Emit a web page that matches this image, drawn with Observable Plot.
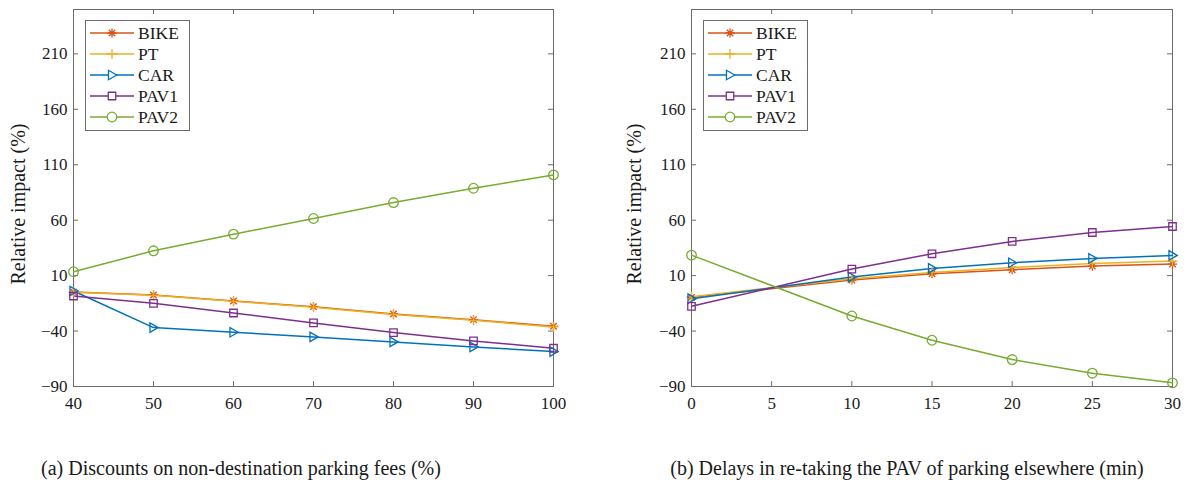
<!DOCTYPE html>
<html>
<head>
<meta charset="utf-8">
<script src="https://cdn.jsdelivr.net/npm/d3@7"></script>
<script src="https://cdn.jsdelivr.net/npm/@observablehq/plot@0.6"></script>
<style>
  html, body { margin: 0; padding: 0; background: #fff; }
  #root { position: relative; width: 1187px; height: 484px; overflow: hidden; font-family: "Liberation Serif", "Times New Roman", serif; color: #1a1a1a; }
  .abs { position: absolute; font-family: "Liberation Serif", "Times New Roman", serif; }
  .ylab { font-size: 20px; white-space: nowrap; transform: translate(-50%, -50%) rotate(-90deg); }
  .cap { font-size: 20px; white-space: nowrap; transform: translate(-50%, -50%); }
  svg text { font-family: "Liberation Serif", "Times New Roman", serif; }
</style>
</head>
<body>
<div id="root"></div>
<script>
// ---------------- data ----------------
const seriesNames = ["BIKE", "PT", "CAR", "PAV1", "PAV2"];
const seriesColors = ["#D95319", "#EDB120", "#0072BD", "#7E2F8E", "#77AC30"];

// Panel (a): discounts on non-destination parking fees (%)
const xA = [40, 50, 60, 70, 80, 90, 100];
const bikeA = [-4.8, -7.5, -12.9, -18.0, -24.6, -29.7, -35.7];
const ptA   = [-5.0, -7.8, -13.2, -18.5, -25.0, -30.3, -36.3];
const carA  = [-3.9, -36.9, -41.1, -45.3, -49.8, -54.3, -58.5];
const pav1A = [-8.4, -15.0, -23.7, -32.7, -41.4, -48.9, -55.5];
const pav2A = [13.5, 32.4, 47.4, 61.5, 75.9, 88.8, 100.8];

// Panel (b): delays in re-taking the PAV (min)
const xB = [0, 10, 15, 20, 25, 30];
const bikeB = [-9.6, 6.0, 11.7, 15.3, 18.6, 20.4];
const ptB   = [-9.0, 7.2, 12.9, 17.4, 21.0, 23.1];
const carB  = [-10.8, 8.7, 16.5, 21.6, 25.5, 28.2];
const pav1B = [-17.7, 15.9, 29.7, 40.8, 48.9, 54.3];
const pav2B = [28.5, -26.4, -48.3, -65.7, -78.0, -86.7];

const xTicksA = [40, 50, 60, 70, 80, 90, 100];
const xTicksB = [0, 5, 10, 15, 20, 25, 30];
const yTicks = [-90, -40, 10, 60, 110, 160, 210];
const yDomain = [-90, 250];

const yLabel = "Relative impact (%)";
const captionA = "(a) Discounts on non-destination parking fees (%)";
const captionB = "(b) Delays in re-taking the PAV of parking elsewhere (min)";

// ---------------- marker symbols (MATLAB style) ----------------
const rOf = size => Math.sqrt(size / Math.PI);
const symAsterisk = { draw(c, size) { const r = rOf(size) * 0.95, d = r * 0.7071;
  c.moveTo(-r, 0); c.lineTo(r, 0); c.moveTo(0, -r); c.lineTo(0, r);
  c.moveTo(-d, -d); c.lineTo(d, d); c.moveTo(-d, d); c.lineTo(d, -d); } };
const symPlus = { draw(c, size) { const r = rOf(size) * 1.05;
  c.moveTo(-r, 0); c.lineTo(r, 0); c.moveTo(0, -r); c.lineTo(0, r); } };
const symTriRight = { draw(c, size) { const r = rOf(size) * 0.98;
  c.moveTo(r, 0); c.lineTo(-r * 0.75, -r); c.lineTo(-r * 0.75, r); c.closePath(); } };
const symSquare = { draw(c, size) { const h = rOf(size) * 0.78;
  c.moveTo(-h, -h); c.lineTo(h, -h); c.lineTo(h, h); c.lineTo(-h, h); c.closePath(); } };
const symCircle = { draw(c, size) { const r = rOf(size);
  c.moveTo(r, 0); c.arc(0, 0, r, 0, 2 * Math.PI); } };
const seriesSymbols = [symAsterisk, symPlus, symTriRight, symSquare, symCircle];

const FONT = '"Liberation Serif", "Times New Roman", serif';
const FRAME = "#6b6b6b";
const DOT_R = 4.8;

function makePanel({ xs, ys, xDomain, xTicks, width, height, marginLeft, marginRight, marginTop, marginBottom }) {
  const plotW = width - marginLeft - marginRight;
  const plotH = height - marginTop - marginBottom;
  const marks = [
    Plot.frame({ stroke: FRAME, strokeWidth: 1 }),
    Plot.tickX(xTicks, { x: d => d, insetTop: plotH - 5, stroke: FRAME }),
    Plot.tickX(xTicks, { x: d => d, insetBottom: plotH - 5, stroke: FRAME }),
    Plot.tickY(yTicks, { y: d => d, insetLeft: plotW - 5, stroke: FRAME }),
    Plot.tickY(yTicks, { y: d => d, insetRight: plotW - 5, stroke: FRAME }),
    Plot.axisX({ ticks: xTicks, tickSize: 0, tickPadding: 10, label: null, fontSize: 17, fill: "#1a1a1a" }),
    Plot.axisY({ ticks: yTicks, tickSize: 0, tickPadding: 6, label: null, fontSize: 17, fill: "#1a1a1a" })
  ];
  seriesNames.forEach((name, k) => {
    const data = xs.map((x, i) => ({ x, y: ys[k][i], name }));
    marks.push(Plot.line(data, { x: "x", y: "y", stroke: seriesColors[k], strokeWidth: 1.5 }));
  });
  seriesNames.forEach((name, k) => {
    const data = xs.map((x, i) => ({ x, y: ys[k][i], name }));
    marks.push(Plot.dot(data, { x: "x", y: "y", r: DOT_R, symbol: seriesSymbols[k], stroke: seriesColors[k], fill: "none", strokeWidth: 1.3 }));
  });
  const svg = Plot.plot({
    width, height, marginLeft, marginRight, marginTop, marginBottom,
    x: { domain: xDomain, ticks: xTicks },
    y: { domain: yDomain, ticks: yTicks },
    style: `font-family: ${FONT}; font-size: 17px; background: transparent; overflow: visible;`,
    marks
  });
  svg.setAttribute("font-family", FONT);
  return svg;
}

function makeLegend(left, top) {
  const w = 104, rowH = 21, h = 110;
  const svg = d3.create("svg").attr("width", w + 2).attr("height", h + 2)
    .style("position", "absolute").style("left", left + "px").style("top", top + "px").style("overflow", "visible");
  svg.append("rect").attr("x", 0.5).attr("y", 0.5).attr("width", w).attr("height", h)
    .attr("fill", "white").attr("stroke", FRAME).attr("stroke-width", 1);
  seriesNames.forEach((name, k) => {
    const cy = 13 + k * rowH;
    const g = svg.append("g");
    g.append("line").attr("x1", 5).attr("x2", 49).attr("y1", cy).attr("y2", cy)
      .attr("stroke", seriesColors[k]).attr("stroke-width", 1.5);
    g.append("path").attr("transform", `translate(27,${cy})`)
      .attr("d", d3.symbol(seriesSymbols[k], DOT_R * DOT_R * Math.PI)())
      .attr("fill", "white").attr("stroke", seriesColors[k]).attr("stroke-width", 1.3);
    g.append("text").attr("x", 53).attr("y", cy).attr("dy", "0.35em")
      .attr("font-family", FONT).attr("font-size", 17.5).attr("fill", "#1a1a1a").text(name);
  });
  return svg.node();
}

const root = document.getElementById("root");

const panelA = makePanel({ xs: xA, ys: [bikeA, ptA, carA, pav1A, pav2A], xDomain: [40, 100], xTicks: xTicksA,
  width: 593, height: 420, marginLeft: 73, marginRight: 40, marginTop: 9, marginBottom: 34 });
panelA.style.position = "absolute"; panelA.style.left = "0px"; panelA.style.top = "0px";
root.appendChild(panelA);

const panelB = makePanel({ xs: xB, ys: [bikeB, ptB, carB, pav1B, pav2B], xDomain: [0, 30], xTicks: xTicksB,
  width: 594, height: 420, marginLeft: 98, marginRight: 15, marginTop: 9, marginBottom: 34 });
panelB.style.position = "absolute"; panelB.style.left = "593px"; panelB.style.top = "0px";
root.appendChild(panelB);

root.appendChild(makeLegend(85, 20));
root.appendChild(makeLegend(703, 20));

function addText(cls, text, x, y) {
  const d = document.createElement("div");
  d.className = "abs " + cls; d.textContent = text;
  d.style.left = x + "px"; d.style.top = y + "px";
  d.style.fontFamily = FONT;
  root.appendChild(d);
}
addText("ylab", yLabel, 18, 204);
addText("ylab", yLabel, 634, 204);
addText("cap", captionA, 241, 468);
addText("cap", captionB, 907, 468);
</script>
</body>
</html>
